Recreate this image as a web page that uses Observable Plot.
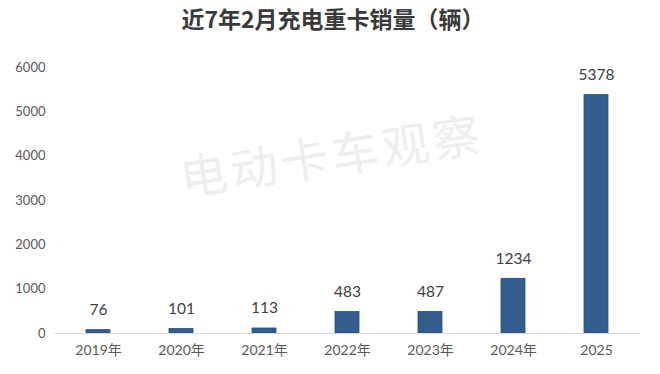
<!DOCTYPE html>
<html>
<head>
<meta charset="utf-8">
<script src="https://cdn.jsdelivr.net/npm/d3@7"></script>
<script src="https://cdn.jsdelivr.net/npm/@observablehq/plot@0.6"></script>
<style>
  html, body { margin: 0; padding: 0; background: #fff; }
  #wrap { position: relative; width: 660px; height: 374px; overflow: hidden; }
  #title { height: 40px; line-height: 36px; text-align: center; font-family: "Noto Sans CJK SC", sans-serif; font-weight: 700; font-size: 23px; color: #3a3a3a; padding-left: 6px; box-sizing: border-box; }
  #wm { position: absolute; left: 180px; top: 152px; font-family: "Noto Sans CJK SC", sans-serif; font-size: 47px; line-height: 48px; letter-spacing: 4px; color: #eeeeee; transform: rotate(-8.5deg); transform-origin: left center; white-space: nowrap; pointer-events: none; }
  #chart { position: relative; }
</style>
</head>
<body>
<div id="wrap">
  <div id="title">近7年2月充电重卡销量（辆）</div>
  <div id="wm">电动卡车观察</div>
  <div id="chart"></div>
</div>
<script>
const categories = ["2019年", "2020年", "2021年", "2022年", "2023年", "2024年", "2025"];
const values = [76, 101, 113, 483, 487, 1234, 5378];
const yTicks = [0, 1000, 2000, 3000, 4000, 5000, 6000];

const data = categories.map((c, i) => ({ year: c, value: values[i] }));

const plot = Plot.plot({
  width: 660,
  height: 334,
  marginTop: 27,
  marginBottom: 41,
  marginLeft: 55,
  marginRight: 20,
  style: { fontFamily: "Lato, 'Noto Sans CJK SC', sans-serif", background: "transparent" },
  x: { domain: categories, paddingInner: 0.71, paddingOuter: 0.355, label: null },
  y: { domain: [0, 6000], label: null },
  marks: [
    Plot.axisY({ ticks: yTicks, tickSize: 0, tickPadding: 10, tickFormat: d3.format("d"), label: null, fontSize: 13, fill: "#595959" }),
    Plot.axisX({ tickSize: 0, tickPadding: 12, label: null, fontSize: 14, fill: "#595959" }),
    Plot.barY(data, { x: "year", y: "value", fill: "#345d8e", stroke: "#2b4f7a", strokeWidth: 0.8 }),
    Plot.ruleY([0], { stroke: "#d9d9d9", strokeWidth: 1.2 }),
    Plot.text(data, { x: "year", y: "value", text: d => String(d.value), dy: -20, fontSize: 15.5, fill: "#404040" })
  ]
});
document.getElementById("chart").appendChild(plot);
</script>
</body>
</html>
